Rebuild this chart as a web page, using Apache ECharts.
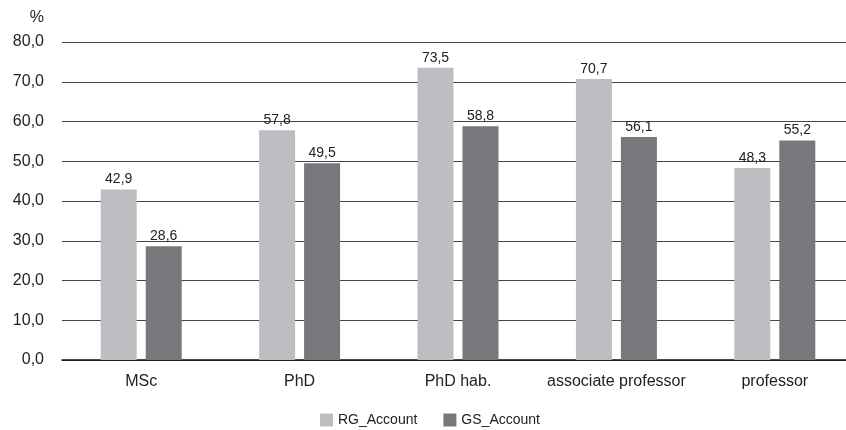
<!DOCTYPE html>
<html>
<head>
<meta charset="utf-8">
<script src="https://cdn.jsdelivr.net/npm/echarts@6/dist/echarts.min.js"></script>
<style>
html,body{margin:0;padding:0;background:#fff;}
#chart{width:846px;height:430px;}
</style>
</head>
<body>
<div id="chart"></div>
<script>
// Share of researchers with an account, by academic degree / position
const categories = ['MSc', 'PhD', 'PhD hab.', 'associate professor', 'professor'];
const rgAccount = [42.9, 57.8, 73.5, 70.7, 48.3];
const gsAccount = [28.6, 49.5, 58.8, 56.1, 55.2];
const seriesNames = ['RG_Account', 'GS_Account'];

const fmt = v => v.toFixed(1).replace('.', ',');
const FONT = '"Liberation Sans", Arial, Helvetica, sans-serif';

const chart = echarts.init(document.getElementById('chart'));

const label = {
  show: true,
  position: 'top',
  distance: 3,
  color: '#222',
  fontSize: 14,
  fontFamily: FONT,
  formatter: p => fmt(p.value)
};

chart.setOption({
  animation: false,
  textStyle: { fontFamily: FONT },
  grid: { left: 62, width: 792, top: 42, bottom: 70, containLabel: false, outerBoundsMode: 'none' },
  legend: {
    data: seriesNames,
    bottom: 3,
    left: 320,
    padding: 0,
    icon: 'rect',
    itemWidth: 13,
    itemHeight: 13,
    itemGap: 26,
    textStyle: { color: '#222', fontSize: 14, fontFamily: FONT }
  },
  xAxis: {
    type: 'category',
    data: categories,
    axisTick: { show: false },
    axisLine: { lineStyle: { color: '#111', width: 1.5 } },
    axisLabel: { color: '#222', fontSize: 16, fontFamily: FONT, margin: 14, interval: 0 }
  },
  yAxis: {
    type: 'value',
    min: 0,
    max: 80,
    interval: 10,
    name: '%',
    nameLocation: 'end',
    nameGap: 24,
    nameTextStyle: { color: '#222', fontSize: 16, fontFamily: FONT, align: 'right', verticalAlign: 'middle', padding: [0, 18, 0, 0] },
    axisLine: { show: false },
    axisTick: { show: false },
    axisLabel: { color: '#222', fontSize: 16, fontFamily: FONT, margin: 18, formatter: v => fmt(v) },
    splitLine: { lineStyle: { color: '#444', width: 1.2 } }
  },
  series: [
    {
      name: seriesNames[0],
      type: 'bar',
      data: rgAccount,
      barWidth: 36,
      barGap: '25%',
      itemStyle: { color: '#bdbec2' },
      label
    },
    {
      name: seriesNames[1],
      type: 'bar',
      data: gsAccount,
      barWidth: 36,
      itemStyle: { color: '#77787c' },
      label
    }
  ]
});
</script>
</body>
</html>
